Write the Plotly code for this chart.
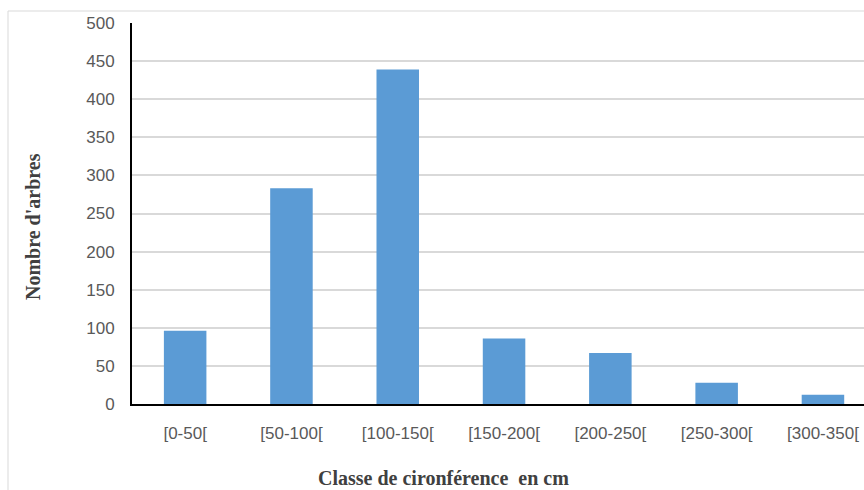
import plotly.graph_objects as go

categories = ["[0-50[", "[50-100[", "[100-150[", "[150-200[", "[200-250[", "[250-300[", "[300-350["]
counts = [96, 283, 439, 86, 67, 28, 12]
y_ticks = [0, 50, 100, 150, 200, 250, 300, 350, 400, 450, 500]

W, H = 864, 490
L, T = 132, 23
AXIS_Y = 404
B = H - AXIS_Y
R = 0
plot_w = W - L - R
plot_h = H - T - B

fig = go.Figure(go.Bar(
    x=categories, y=counts,
    marker=dict(color="#5B9BD5", line=dict(width=0)),
))

fig.update_layout(
    width=W, height=H,
    margin=dict(l=L, r=R, t=T, b=B, autoexpand=False),
    paper_bgcolor="white", plot_bgcolor="white",
    bargap=0.6,
    showlegend=False,
    font=dict(family="Liberation Sans", color="#595959"),
)

# category step in reference is ~106.3 px; right edge of plot is cut by the window
step = 106.3
fig.update_xaxes(
    type="category",
    range=[-0.5, -0.5 + plot_w / step],
    showgrid=False,
    showline=True, linecolor="black", linewidth=2,
    ticks="", tickfont=dict(size=17, color="#595959"),
    ticklabelstandoff=13,
)
fig.update_yaxes(
    range=[0, 500],
    tickvals=y_ticks,
    showgrid=True, gridcolor="#d9d9d9", gridwidth=1.5,
    showline=True, linecolor="black", linewidth=2,
    zeroline=False,
    ticks="", tickfont=dict(size=17, color="#595959"),
    ticklabelstandoff=12,
)

def px_x(x):
    return (x - L) / plot_w

def px_y(y):
    return (AXIS_Y - y) / plot_h

fig.add_annotation(
    text="<b>Classe de cironférence\u00a0 en cm</b>",
    xref="paper", yref="paper",
    x=px_x(443), y=px_y(478),
    showarrow=False, xanchor="center", yanchor="middle",
    font=dict(family="Liberation Serif", size=20, color="#404040"),
)
fig.add_annotation(
    text="<b>Nombre d'arbres</b>",
    xref="paper", yref="paper",
    x=px_x(33), y=px_y(226),
    showarrow=False, xanchor="center", yanchor="middle", textangle=-90,
    font=dict(family="Liberation Serif", size=20, color="#404040"),
)

# outer chart border
fig.add_shape(
    type="rect", xref="paper", yref="paper",
    x0=px_x(8), x1=px_x(880),
    y0=px_y(500), y1=px_y(11),
    line=dict(color="#d9d9d9", width=1), fillcolor="rgba(0,0,0,0)",
    layer="below",
)

fig.write_html(
    "out.html",
    config={"displayModeBar": False},
    post_script="document.body.style.margin='0';document.body.style.overflow='hidden';",
)
